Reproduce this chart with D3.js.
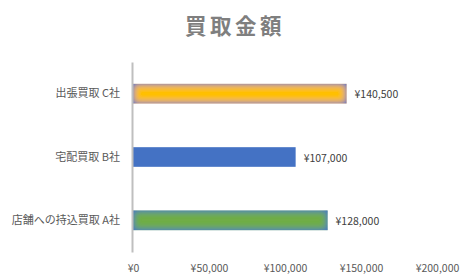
<!DOCTYPE html>
<html><head><meta charset="utf-8">
<script src="https://cdn.jsdelivr.net/npm/d3@7"></script>
<style>
html,body{margin:0;padding:0;background:#fff;}
svg{display:block;}
</style></head>
<body>
<svg id="chart" width="471" height="280"></svg>
<script>
const title = "買取金額";
const categories = ["店舗への持込買取 A社", "宅配買取 B社", "出張買取 C社"];
const values = [128000, 107000, 140500];
const barColors = ["#70AD47", "#4472C4", "#FFC000"];
const glow = [true, false, true];
const xTicks = [0, 50000, 100000, 150000, 200000];

const W = 471, H = 280;
const svg = d3.select("#chart");
const font = "'Noto Sans CJK JP', 'Noto Sans', sans-serif";

const defs = svg.append("defs");
const f = defs.append("filter").attr("id", "innerGlow")
  .attr("x", "-5%").attr("y", "-30%").attr("width", "110%").attr("height", "160%");
f.append("feGaussianBlur").attr("in", "SourceAlpha").attr("stdDeviation", 3.5).attr("result", "blur");
f.append("feComposite").attr("in", "SourceAlpha").attr("in2", "blur").attr("operator", "out").attr("result", "edge0");
const ct = f.append("feComponentTransfer").attr("in", "edge0").attr("result", "edge");
ct.append("feFuncA").attr("type", "linear").attr("slope", 1.5).attr("intercept", 0);
f.append("feFlood").attr("flood-color", "#4472C4").attr("flood-opacity", 0.85).attr("result", "col");
f.append("feComposite").attr("in", "col").attr("in2", "edge").attr("operator", "in").attr("result", "glow");
const m = f.append("feMerge");
m.append("feMergeNode").attr("in", "SourceGraphic");
m.append("feMergeNode").attr("in", "glow");

const x = d3.scaleLinear().domain([0, 200000]).range([133, 437]);
const y = d3.scaleBand().domain(categories.slice().reverse()).range([62, 252])
  .paddingInner(0.69).paddingOuter(0.345);

const yen = v => "¥" + d3.format(",")(v);

// title
svg.append("text").attr("x", 235).attr("y", 24)
  .attr("text-anchor", "middle").attr("dominant-baseline", "central")
  .attr("font-family", font).attr("font-size", 21.5).attr("font-weight", "bold")
  .attr("letter-spacing", 3.5).attr("fill", "#7f7f7f").text(title);

// bars
svg.append("g").selectAll("rect").data(categories).join("rect")
  .attr("x", x(0))
  .attr("y", d => y(d))
  .attr("width", (d, i) => x(values[i]) - x(0))
  .attr("height", y.bandwidth())
  .attr("fill", (d, i) => barColors[i])
  .attr("filter", (d, i) => glow[i] ? "url(#innerGlow)" : null);

// value labels
svg.append("g").selectAll("text").data(categories).join("text")
  .attr("x", (d, i) => x(values[i]) + 8)
  .attr("y", d => y(d) + y.bandwidth() / 2)
  .attr("dominant-baseline", "central")
  .attr("font-family", font).attr("font-size", 10.5).attr("fill", "#404040")
  .text((d, i) => yen(values[i]));

// y axis
const ya = svg.append("g").attr("transform", "translate(132,0)")
  .call(d3.axisLeft(y).tickSize(0).tickSizeOuter(0).tickPadding(12));
ya.select(".domain").attr("stroke", "#bfbfbf").attr("stroke-width", 2);
ya.selectAll("text").attr("font-family", font).attr("font-size", 11).attr("fill", "#595959");

// x axis
const xa = svg.append("g").attr("transform", "translate(0,260)")
  .call(d3.axisBottom(x).tickValues(xTicks).tickFormat(yen).tickSize(0).tickPadding(0));
xa.select(".domain").remove();
xa.selectAll("text").attr("font-family", font).attr("font-size", 10.5).attr("fill", "#595959")
  .attr("dy", null).attr("y", 7).attr("dominant-baseline", "central");
</script>
</body></html>
